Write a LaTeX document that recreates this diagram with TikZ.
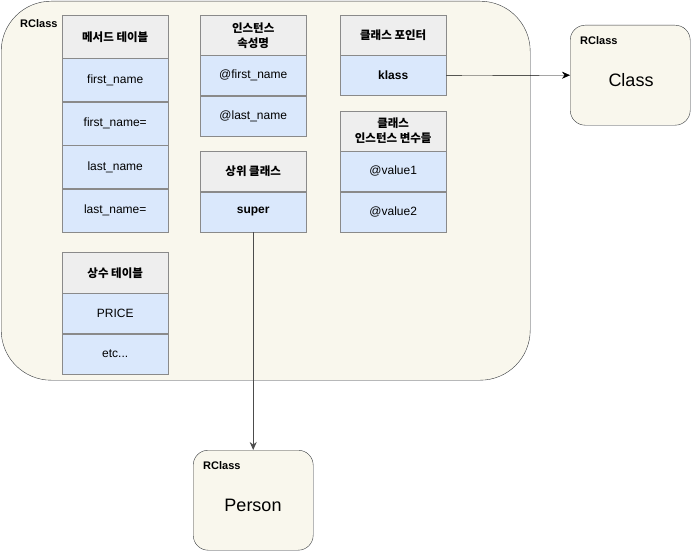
\documentclass[tikz,border=0pt]{standalone}
\usepackage{fontspec}
\setmainfont{Liberation Sans}
\newfontfamily\kr{Noto Sans CJK KR}
\usetikzlibrary{positioning,arrows.meta}
\definecolor{bg}{HTML}{F9F7ED}
\definecolor{edge}{HTML}{36393D}
\definecolor{headfill}{HTML}{EEEEEE}
\definecolor{cellfill}{HTML}{DAE8FC}
\definecolor{rule}{HTML}{8A8A8A}

\begin{document}
\begin{tikzpicture}[x=1pt, y=-1pt, font=\fontsize{12}{14}\selectfont,
    head/.style={draw=rule, fill=headfill, minimum width=106pt, minimum height=40pt,
        inner sep=0pt, align=center, font=\kr\bfseries\fontsize{11.5}{15}\selectfont},
    cell/.style={draw=rule, fill=cellfill, minimum width=106pt, minimum height=40pt, inner sep=0pt},
    obj/.style={draw=edge, fill=bg, rounded corners=15pt, minimum width=120pt,
        minimum height=100pt, anchor=north west},
    tag/.style={anchor=west, inner sep=0pt, font=\bfseries\fontsize{11}{13}\selectfont}]
    \useasboundingbox (0,0) rectangle (691,551);

    \node[obj, rounded corners=50pt, minimum width=529pt, minimum height=379pt](rclass) at (1,1) {};
    \node[tag](rtag) at (20,24) {RClass};

    % method table
    \node[head, minimum height=43pt, anchor=north west](mt) at (62,15) {메서드 테이블};
    \node[cell, minimum height=43pt, below=0pt of mt](m1) {first\_name};
    \node[cell, minimum height=43pt, below=0pt of m1](m2) {first\_name=};
    \node[cell, minimum height=43pt, below=0pt of m2](m3) {last\_name};
    \node[cell, minimum height=43pt, below=0pt of m3](m4) {last\_name=};

    % constants
    \node[head, minimum height=41pt, below=20pt of m4](ct) {상수 테이블};
    \node[cell, below=0pt of ct](c1) {PRICE};
    \node[cell, below=0pt of c1](c2) {etc...};

    % instance attributes
    \node[head, anchor=north west](ia) at (200,15) {인스턴스\\속성명};
    \node[cell, below=0pt of ia](ia1) {@first\_name};
    \node[cell, below=0pt of ia1](ia2) {@last\_name};
    \node[head, below=15pt of ia2](sc) {상위 클래스};
    \node[cell, below=0pt of sc, font=\bfseries\fontsize{12}{14}\selectfont](super) {super};

    % class pointer
    \node[head, anchor=north west](cp) at (340,15) {클래스 포인터};
    \node[cell, below=0pt of cp, font=\bfseries\fontsize{12}{14}\selectfont](klass) {klass};
    \node[head, below=15pt of klass](cv) {클래스\\인스턴스 변수들};
    \node[cell, below=0pt of cv](v1) {@value1};
    \node[cell, below=0pt of v1](v2) {@value2};

    % other objects
    \node[obj](cls) at (570,25) {};
    \node[tag] at (580,41) {RClass};
    \node[font=\fontsize{18}{20}\selectfont] at (631,80) {Class};

    \node[obj](person) at (193,450) {};
    \node[tag] at (203,466) {RClass};
    \node[font=\fontsize{18}{20}\selectfont] at (253,505) {Person};

    \draw[-{Stealth[length=8pt,width=7pt]}] (klass.east) -- (cls.west);
    \draw[-{Stealth[length=8pt,width=7pt]}, draw=black!70, line width=1pt] (super.south) -- (super.south |- person.north);
\end{tikzpicture}
\end{document}
